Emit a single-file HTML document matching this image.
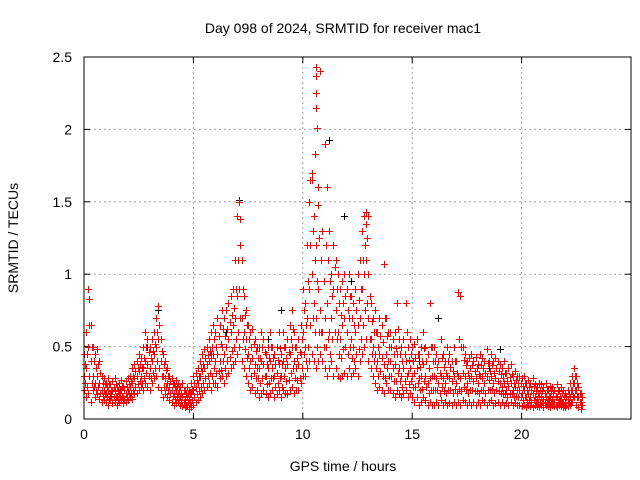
<!DOCTYPE html>
<html><head><meta charset="utf-8"><style>
body{margin:0;background:#fff;}
svg{display:block;font-family:"Liberation Sans",sans-serif;}
#marks path{shape-rendering:crispEdges;}
</style></head><body>
<svg id="chart" width="640" height="480">
<text x="343" y="33" font-size="14" text-anchor="middle">Day 098 of 2024, SRMTID for receiver mac1</text>
<text x="343" y="471" font-size="14" text-anchor="middle">GPS time / hours</text>
<text x="18" y="238" font-size="14" text-anchor="middle" transform="rotate(-90 18 238)">SRMTID / TECUs</text>
<g id="grid"></g>
<g id="ticks"></g>
<g id="marks"></g>
<rect x="84" y="57" width="547" height="362" fill="none" stroke="#000" stroke-width="1"/>
</svg>
<script>
const xTicks=[0,5,10,15,20];
const yTicks=[0,0.5,1,1.5,2,2.5];
const yTickLabels=["0","0.5","1","1.5","2","2.5"];
const loVals=[.2,.15,.18,.12,.2,.15,.17,.14,.12,.13,.12,.1,.13,.11,.12,.1,.12,.13,.11,.12,.13,.15,.14,.17,.18,.2,.22,.2,.25,.22,.2,.25,.28,.3,.22,.2,.15,.17,.15,.13,.12,.1,.11,.12,.1,.09,.08,.1,.07,.08,.1,.12,.13,.15,.18,.2,.22,.25,.2,.25,.25,.22,.28,.3,.25,.3,.32,.35,.38,.4,.45,.5,.4,.35,.3,.25,.2,.22,.18,.2,.15,.18,.2,.17,.15,.18,.2,.15,.17,.2,.15,.2,.18,.17,.2,.22,.18,.2,.2,.25,.3,.3,.35,.4,.45,.4,.35,.4,.45,.4,.35,.3,.35,.4,.3,.35,.3,.28,.3,.32,.3,.35,.3,.32,.35,.3,.4,.45,.5,.55,.4,.35,.3,.25,.2,.22,.2,.18,.25,.2,.2,.18,.15,.2,.17,.15,.18,.2,.15,.18,.15,.12,.15,.1,.12,.15,.13,.1,.12,.1,.1,.12,.1,.13,.1,.12,.1,.11,.1,.12,.1,.12,.1,.13,.12,.1,.12,.1,.12,.1,.12,.1,.13,.12,.1,.12,.13,.1,.11,.12,.1,.12,.1,.11,.1,.12,.1,.11,.1,.1,.09,.1,.08,.1,.09,.08,.1,.09,.08,.1,.08,.1,.09,.08,.1,.09,.08,.1,.09,.08,.08,.09,.1,.12,.15,.1,.08,.07];
const q1Vals=[.25,.22,.3,.25,.22,.2,.22,.18,.16,.17,.15,.14,.16,.15,.16,.13,.15,.16,.14,.15,.17,.18,.2,.22,.24,.26,.25,.28,.32,.3,.28,.32,.35,.4,.35,.3,.22,.22,.2,.18,.16,.14,.15,.14,.12,.12,.1,.12,.11,.13,.15,.17,.19,.22,.25,.28,.3,.32,.3,.35,.32,.33,.34,.4,.35,.4,.43,.47,.5,.55,.6,.7,.55,.48,.42,.35,.3,.32,.28,.28,.25,.28,.3,.24,.25,.28,.28,.22,.25,.28,.22,.3,.26,.27,.32,.35,.28,.27,.28,.35,.45,.4,.5,.65,.7,.6,.5,.6,.6,.5,.5,.55,.45,.55,.6,.55,.45,.42,.48,.5,.45,.5,.42,.4,.45,.48,.55,.65,.75,.8,.55,.45,.4,.35,.3,.33,.3,.28,.35,.3,.3,.26,.26,.32,.26,.22,.26,.3,.24,.26,.22,.22,.25,.2,.21,.26,.22,.18,.2,.2,.2,.2,.18,.22,.19,.18,.2,.2,.18,.21,.18,.21,.19,.22,.21,.18,.2,.2,.19,.19,.18,.2,.2,.18,.2,.2,.21,.18,.2,.19,.18,.17,.18,.15,.17,.18,.15,.16,.15,.15,.13,.15,.12,.13,.12,.13,.12,.12,.12,.12,.11,.12,.11,.12,.12,.1,.12,.11,.12,.1,.1,.11,.12,.16,.2,.15,.12,.1];
const midVals=[.3,.35,.5,.4,.3,.25,.3,.25,.2,.2,.18,.2,.17,.19,.2,.15,.18,.2,.16,.18,.2,.22,.25,.28,.3,.33,.3,.35,.4,.38,.35,.4,.45,.5,.55,.4,.3,.28,.25,.22,.2,.18,.2,.17,.15,.16,.13,.15,.14,.18,.2,.22,.25,.3,.33,.35,.38,.4,.42,.45,.4,.45,.4,.5,.45,.5,.55,.6,.65,.7,.85,.9,.7,.6,.55,.45,.4,.42,.38,.35,.35,.4,.38,.3,.35,.4,.35,.3,.32,.38,.3,.4,.35,.38,.45,.5,.4,.35,.38,.45,.6,.5,.7,.9,1.0,.8,.7,.9,.75,.6,.7,.8,.6,.7,.9,.75,.6,.55,.65,.7,.6,.7,.55,.5,.6,.65,.7,.9,1.0,1.1,.7,.55,.5,.45,.4,.45,.42,.38,.45,.4,.4,.35,.38,.45,.35,.3,.35,.4,.32,.35,.3,.32,.35,.28,.3,.38,.3,.25,.28,.3,.3,.28,.25,.3,.28,.25,.3,.28,.26,.3,.25,.3,.28,.32,.3,.25,.28,.3,.26,.28,.25,.3,.28,.25,.3,.27,.3,.25,.28,.26,.25,.22,.25,.2,.23,.25,.2,.22,.2,.2,.18,.2,.15,.17,.15,.18,.15,.14,.16,.15,.14,.15,.13,.15,.14,.12,.15,.13,.14,.12,.12,.14,.15,.2,.25,.2,.15,.12];
const q3Vals=[.38,.45,.65,.5,.4,.35,.38,.32,.25,.24,.22,.24,.2,.22,.24,.19,.21,.23,.2,.22,.24,.26,.3,.33,.35,.38,.36,.42,.5,.46,.42,.47,.52,.6,.65,.47,.38,.34,.3,.26,.24,.22,.23,.2,.18,.2,.17,.18,.17,.21,.25,.27,.3,.35,.38,.42,.44,.47,.5,.55,.5,.57,.52,.62,.57,.62,.67,.72,.77,.9,1.1,1.2,.9,.72,.65,.55,.5,.52,.47,.42,.42,.5,.46,.38,.42,.5,.42,.38,.41,.49,.38,.5,.42,.46,.55,.62,.5,.42,.46,.55,.75,.65,.95,1.2,1.3,1.1,.95,1.25,1.1,.95,1.2,1.1,.95,.85,1.05,.9,.8,.72,.8,.85,.75,.85,.7,.65,.75,.82,.9,1.1,1.2,1.25,.85,.68,.6,.6,.5,.57,.53,.7,.57,.5,.5,.45,.49,.62,.45,.4,.45,.6,.41,.45,.4,.42,.45,.36,.4,.49,.4,.35,.5,.4,.4,.36,.32,.42,.36,.32,.4,.36,.33,.4,.32,.55,.5,.41,.37,.32,.35,.37,.33,.35,.31,.37,.35,.32,.39,.33,.37,.32,.35,.33,.31,.28,.32,.26,.29,.31,.25,.27,.25,.25,.23,.25,.2,.22,.2,.23,.19,.18,.2,.19,.18,.2,.16,.19,.18,.16,.19,.16,.18,.16,.15,.17,.2,.25,.3,.25,.18,.15];
const hiVals=[.45,.6,.9,.65,.5,.45,.48,.4,.3,.28,.25,.28,.24,.26,.28,.22,.25,.27,.23,.26,.28,.3,.35,.38,.4,.45,.42,.5,.6,.55,.5,.55,.6,.7,.78,.55,.45,.4,.35,.3,.28,.25,.27,.24,.22,.25,.2,.22,.2,.25,.3,.32,.35,.4,.45,.48,.5,.55,.6,.65,.6,.7,.65,.75,.7,.75,.8,.85,.9,1.1,1.4,1.5,1.1,.85,.75,.65,.6,.62,.55,.5,.5,.6,.55,.45,.5,.6,.5,.45,.5,.6,.45,.6,.5,.55,.65,.75,.6,.5,.55,.65,.9,.8,1.2,1.5,1.65,1.4,1.2,1.6,2.4,1.3,1.9,1.6,1.3,1.0,1.2,1.1,1.0,.9,.95,1.0,.9,1.0,.85,.8,.9,1.0,1.1,1.3,1.4,1.43,1.0,.8,.7,.75,.6,.7,.65,1.07,.7,.6,.6,.55,.6,.8,.55,.5,.55,.8,.5,.55,.5,.52,.55,.45,.5,.6,.5,.45,.8,.5,.5,.45,.4,.55,.45,.4,.5,.45,.4,.5,.4,.88,.85,.5,.45,.4,.42,.45,.4,.43,.38,.45,.42,.4,.48,.4,.45,.4,.42,.4,.38,.35,.4,.32,.35,.38,.3,.33,.3,.3,.28,.3,.25,.27,.25,.28,.24,.22,.25,.24,.22,.25,.2,.23,.22,.2,.24,.2,.22,.2,.18,.2,.25,.3,.35,.3,.22,.18];
const spikeT=[10.62,10.62,10.6,10.6,10.64,10.58,10.4,10.35,10.7,0.22,7.15,12.9,13.0];
const spikeV=[2.43,2.37,2.25,2.15,2.01,1.83,1.7,1.65,1.48,0.83,1.38,1.35,1.4];
const blackT=[7.1,11.2,11.9,3.4,9.0,14.7,16.2,19.0,5.8,8.4,12.2,15.3,6.5,18.5,2.9];
const blackV=[1.51,1.93,1.4,0.75,0.75,0.8,0.7,0.48,0.45,0.55,0.95,0.4,0.6,0.35,0.5];

const L=84,T=57,R=631,B=419;
const X=v=>L+v*(R-L)/25;
const Y=v=>B-v*(B-T)/2.5;
const NS="http://www.w3.org/2000/svg";
function mk(tag,attrs,parent){const e=document.createElementNS(NS,tag);for(const k in attrs)e.setAttribute(k,attrs[k]);parent.appendChild(e);return e;}
const grid=document.getElementById('grid'),ticks=document.getElementById('ticks'),marks=document.getElementById('marks');
xTicks.forEach(v=>{
  const x=X(v);
  if(v>0){const g=mk('line',{x1:x,x2:x,y1:T,y2:B,stroke:'#a0a0a0','stroke-dasharray':'2,3'},grid);
  
  }
  mk('line',{x1:x,x2:x,y1:B,y2:B-6,stroke:'#000'},ticks);
  mk('line',{x1:x,x2:x,y1:T,y2:T+6,stroke:'#000'},ticks);
  const t=mk('text',{x:x,y:B+20,'font-size':14,'text-anchor':'middle'},ticks);t.textContent=String(v);
  
  
});
yTicks.forEach((v,i)=>{
  const y=Y(v);
  if(v>0&&v<2.5){const g=mk('line',{x1:L,x2:R,y1:y,y2:y,stroke:'#a0a0a0','stroke-dasharray':'2,3'},grid);
  
  }
  mk('line',{x1:L,x2:L+6,y1:y,y2:y,stroke:'#000'},ticks);
  mk('line',{x1:R,x2:R-6,y1:y,y2:y,stroke:'#000'},ticks);
  const t=mk('text',{x:L-12,y:y+5,'font-size':14,'text-anchor':'end'},ticks);t.textContent=yTickLabels[i];
  
  
});
function cross(t,v,col){
  const x=Math.round(X(t))+0.5,y=Math.round(Y(v))+0.5;
  return mk('path',{d:`M${x-3.5} ${y}H${x+3.5}M${x} ${y-3.5}V${y+3.5}`,stroke:col,'stroke-width':1,fill:'none'},marks);
}
blackT.forEach((t,i)=>{
  const p=cross(t,blackV[i],'#000');
  
  
});
[loVals,midVals,hiVals].forEach(arr=>{
  arr.forEach((v,i)=>{
    const p=cross(i*0.1,v,'#ff0000');
    
    
  });
});
[q1Vals,q3Vals].forEach(arr=>{
  arr.forEach((v,i)=>{
    const p=cross(i*0.1+0.05,v,'#ff0000');
    
    
  });
});
spikeT.forEach((t,i)=>{
  const p=cross(t,spikeV[i],'#ff0000');
  
  
});
</script>
</body></html>
